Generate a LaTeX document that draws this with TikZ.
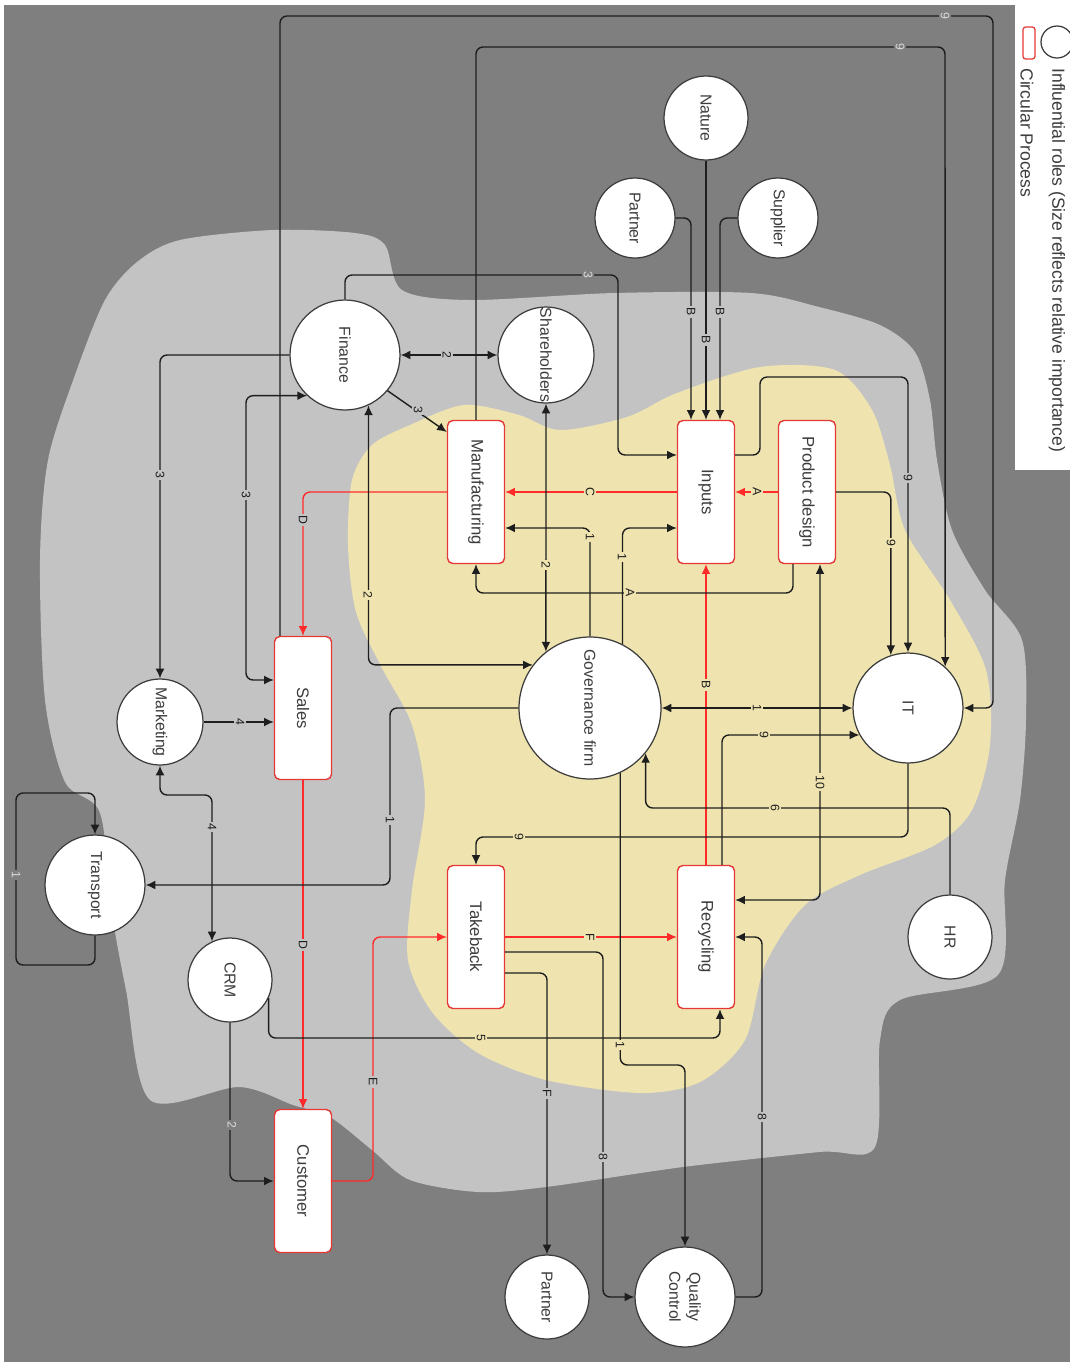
\documentclass[tikz,border=0pt]{standalone}
\usepackage{fontspec}
\usepackage{graphicx}
\setmainfont{Liberation Sans}
\usetikzlibrary{arrows.meta,calc}
\definecolor{panel}{HTML}{7F7F7F}
\definecolor{cloud}{HTML}{C3C3C3}
\definecolor{core}{HTML}{EFE4B0}
\definecolor{lnk}{HTML}{1E1E1E}
\definecolor{loopred}{HTML}{FF2B2B}
\definecolor{rim}{HTML}{3C3C3C}
\definecolor{boxrim}{HTML}{E53935}
\tikzset{
  role/.style={circle,draw=rim,line width=0.7pt,fill=white,inner sep=0pt,text=rim,font=\fontsize{9}{10}\selectfont},
  proc/.style={draw=boxrim,line width=0.8pt,fill=white,rounded corners=3pt,minimum width=1.14cm,minimum height=2.86cm,inner sep=0pt,text=rim,font=\fontsize{9.5}{11}\selectfont},
  link/.style={draw=lnk,line width=0.8pt,rounded corners=4pt,->},
  both/.style={draw=lnk,line width=0.8pt,rounded corners=4pt,<->},
  flow/.style={draw=loopred,line width=0.8pt,rounded corners=4pt,->},
  lbl/.style={rotate=-90,fill=#1,inner sep=1pt,font=\fontsize{7}{8}\selectfont,text=lnk},
  dlbl/.style={lbl=panel,text=black!15},
  keytext/.style={rotate=-90,anchor=west,inner sep=0pt,text=rim,font=\fontsize{10}{12}\selectfont}
}
\begin{document}
\begin{tikzpicture}[x=0.02cm,y=-0.02cm,>={Latex[length=5.5pt,width=5pt]},line join=round]
  \useasboundingbox (0,0) rectangle (1070,1367);
  % backdrop and the two zones
  \fill[panel] (4,5) rectangle (1070,1362);
  \fill[cloud] plot[smooth cycle,tension=0.5] coordinates {(137,262) (180,240) (273,230) (355,233) (385,245) (402,290) (470,300) (614,293) (751,293) (819,307) (880,325) (915,352) (930,400) (937,460) (952,530) (985,590) (1022,640) (1026,720) (1020,800) (1005,880) (998,975) (900,1000) (880,1040) (875,1147) (819,1152) (683,1167) (546,1187) (478,1192) (410,1180) (372,1150) (330,1117) (293,1105) (239,1087) (150,1100) (126,990) (112,913) (100,813) (65,782) (45,700) (40,560) (48,460) (75,375) (105,300)};
  \fill[core] plot[smooth cycle,tension=0.5] coordinates {(372,445) (410,425) (464,405) (519,415) (560,430) (627,417) (677,393) (760,367) (835,370) (872,410) (890,465) (905,530) (950,600) (986,670) (990,745) (972,810) (935,845) (860,875) (805,905) (765,965) (745,1040) (700,1082) (640,1093) (546,1080) (478,1053) (432,1012) (408,960) (412,890) (425,800) (412,725) (382,668) (356,612) (348,545) (352,480)};

  % legend
  \fill[white] (1015,0) rectangle (1070,470);
  \node[circle,draw=rim,line width=0.7pt,minimum size=0.64cm,inner sep=0pt] (kc) at (1057,42) {};
  \node[draw=boxrim,fill=white,line width=0.7pt,rounded corners=1.5pt,minimum width=0.24cm,minimum height=0.64cm,inner sep=0pt] (kb) at (1029,43) {};
  \node[keytext] (kt1) at (1057,68) {Influential roles (Size reflects relative importance)};
  \node[keytext] (kt2) at (1027,68) {Circular Process};

  % roles
  \node[role,minimum size=2.2cm] (fin) at (345,355) {\rotatebox{-90}{Finance}};
  \node[role,minimum size=1.92cm] (sha) at (546,355) {\rotatebox{-90}{Shareholders}};
  \node[role,minimum size=1.68cm] (nat) at (706,118) {\rotatebox{-90}{Nature}};
  \node[role,minimum size=1.6cm] (par1) at (635,218) {\rotatebox{-90}{Partner}};
  \node[role,minimum size=1.6cm] (sup) at (778,218) {\rotatebox{-90}{Supplier}};
  \node[role,minimum size=2.84cm] (gov) at (590,708) {\rotatebox{-90}{Governance firm}};
  \node[role,minimum size=2.2cm] (it) at (908,708) {\rotatebox{-90}{IT}};
  \node[role,minimum size=1.72cm] (mkt) at (160,722) {\rotatebox{-90}{Marketing}};
  \node[role,minimum size=2.0cm] (tra) at (95,885) {\rotatebox{-90}{Transport}};
  \node[role,minimum size=1.68cm] (crm) at (230,980) {\rotatebox{-90}{CRM}};
  \node[role,minimum size=1.68cm] (hr) at (950,937) {\rotatebox{-90}{HR}};
  \node[role,minimum size=1.68cm] (par2) at (547,1297) {\rotatebox{-90}{Partner}};
  \node[role,minimum size=2.0cm] (qc) at (685,1297) {\rotatebox{-90}{\shortstack{Quality\\Control}}};

  % circular process
  \node[proc] (man) at (476,492) {\rotatebox{-90}{Manufacturing}};
  \node[proc] (inp) at (706,492) {\rotatebox{-90}{Inputs}};
  \node[proc] (pd) at (807,492) {\rotatebox{-90}{Product design}};
  \node[proc] (sal) at (303,708) {\rotatebox{-90}{Sales}};
  \node[proc] (tak) at (476,937) {\rotatebox{-90}{Takeback}};
  \node[proc] (rec) at (706,937) {\rotatebox{-90}{Recycling}};
  \node[proc] (cus) at (303,1181) {\rotatebox{-90}{Customer}};

  % red loop
  \draw[flow] (pd.west) -- (inp.east);
  \draw[flow] (inp.west) -- (man.east);
  \draw[flow] (man.west) -| (sal.north);
  \draw[flow] (sal.south) -- (cus.north);
  \draw[flow] (cus.east) -| (tak.west -| 373,0) -- (tak.west);
  \draw[flow] (tak.east) -- (rec.west);
  \draw[flow] (rec.north) -- (inp.south);

  % influences
  \draw[link] (sal.north -| 280,0) |- (993,16) |- (it.east);
  \draw[link] (man.north) |- (945,47) -- (it.48);
  \draw[link] (fin.north) |- (618,275) |- (inp.west |- 0,455);
  \draw[link] (gov.63) |- (inp.west |- 0,528);
  \draw[link] (gov.north) |- (man.east |- 0,528);
  \draw[link] (par1.east) -| (inp.north -| 691,0);
  \draw[link] (nat.south) -- (inp.north);
  \draw[link] (sup.west) -| (inp.north -| 720,0);
  \draw[link] (inp.east |- 0,455) -| (760,377) -| (it.north);
  \draw[link] (pd.east) -| (it.108);
  \draw[link] (pd.south -| 793,0) -- (793,593) -| (man.south);
  \draw[link] (fin.-40) -- (man.west |- 0,432);
  \draw[both] (fin.east) -- (sha.west);
  \draw[both] (sha.south) -- (gov.128);
  \draw[both] (fin.-65) |- (gov.143);
  \draw[both] (fin.227) -| (246,600) |- (sal.west |- 0,680);
  \draw[link] (fin.west) -| (mkt.north);
  \draw[link] (mkt.east) -- (sal.west |- mkt.east);
  \draw[both] (mkt.south) |- (212,795) -- (crm.115);
  \draw[link] (gov.west) -| (390,800) |- (tra.east);
  \draw[link] (tra.south) |- (16,965) |- (tra.north |- 0,793) -- (tra.north);
  \draw[both] (gov.east) -- (it.west);
  \draw[link] (rec.north -| 722,0) |- (it.209);
  \draw[link] (hr.north) |- (gov.-39 |- 0,808) -- (gov.-39);
  \draw[link] (it.south) |- (tak.north |- 0,837) -- (tak.north);
  \draw[both] (pd.south -| 820,0) |- (rec.east |- 0,900);
  \draw[link] (qc.east) -| (762,1100) |- (rec.east);
  \draw[link] (crm.-25) |- (720,1038) -- (rec.south -| 720,0);
  \draw[link] (crm.south) |- (cus.west);
  \draw[link] (tak.east |- 0,973) -| (par2.north);
  \draw[link] (tak.east |- 0,952) -| (603,1200) |- (qc.west);
  \draw[link] (gov.-65) |- (qc.north |- 0,1065) -- (qc.north);

  % labels
  \node[dlbl] (e1) at (945,16) {9};
  \node[dlbl] (e2) at (900,47) {9};
  \node[dlbl] (e3) at (588,275) {3};
  \node[lbl=cloud] (e4) at (691,312) {B};
  \node[lbl=cloud] (e5) at (720,312) {B};
  \node[lbl=cloud] (e6) at (706,340) {B};
  \node[lbl=cloud] (e7) at (447,355) {2};
  \node[lbl=cloud] (e8) at (418,410) {3};
  \node[lbl=core] (e9) at (757,492) {A};
  \node[lbl=core] (e10) at (590,492) {C};
  \node[lbl=cloud] (e11) at (303,520) {D};
  \node[lbl=core] (e12) at (590,537) {1};
  \node[lbl=core] (e13) at (622,557) {1};
  \node[lbl=core] (e14) at (546,565) {2};
  \node[lbl=core] (e15) at (630,593) {A};
  \node[lbl=core] (e16) at (368,595) {2};
  \node[lbl=cloud] (e17) at (246,495) {3};
  \node[lbl=cloud] (e18) at (160,475) {3};
  \node[lbl=cloud] (e19) at (908,478) {9};
  \node[lbl=core] (e20) at (891,543) {9};
  \node[lbl=cloud] (e21) at (240,722) {4};
  \node[lbl=cloud] (e22) at (212,827) {4};
  \node[lbl=core] (e23) at (757,708) {1};
  \node[lbl=core] (e24) at (706,685) {B};
  \node[lbl=core] (e25) at (764,735) {9};
  \node[lbl=core] (e26) at (820,782) {10};
  \node[lbl=core] (e27) at (775,808) {6};
  \node[lbl=cloud] (e28) at (390,820) {1};
  \node[lbl=core] (e29) at (519,837) {9};
  \node[dlbl] (e30) at (16,875) {1};
  \node[lbl=core] (e31) at (590,937) {F};
  \node[lbl=cloud] (e32) at (303,945) {D};
  \node[lbl=core] (e33) at (481,1038) {5};
  \node[lbl=core] (e34) at (620,1045) {1};
  \node[lbl=cloud] (e35) at (373,1082) {E};
  \node[lbl=cloud] (e36) at (547,1093) {F};
  \node[lbl=cloud] (e37) at (762,1117) {8};
  \node[dlbl] (e38) at (232,1125) {2};
  \node[lbl=cloud] (e39) at (603,1157) {8};
\end{tikzpicture}
\end{document}
